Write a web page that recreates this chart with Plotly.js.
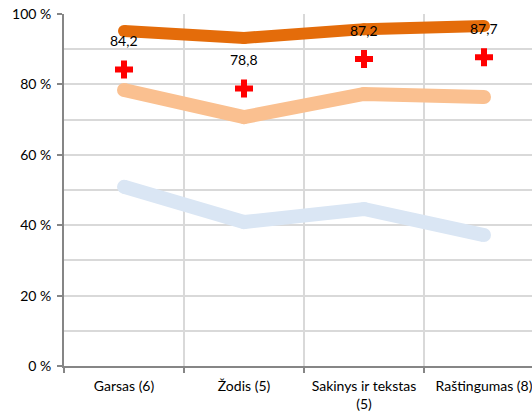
<!DOCTYPE html>
<html>
<head>
<meta charset="utf-8">
<script src="https://cdn.plot.ly/plotly-3.0.1.min.js"></script>
<style>
html,body{margin:0;padding:0;overflow:hidden;background:#fff;}
#chart{width:560px;height:414px;}
</style>
</head>
<body>
<div id="chart"></div>
<script>
const categories = ["Garsas (6)", "Žodis (5)", "Sakinys ir tekstas<br>(5)", "Raštingumas (8)"];
const seriesHigh = [95.2, 93.2, 95.7, 96.6];
const seriesMid = [78.4, 70.7, 77.3, 76.4];
const seriesLow = [50.9, 40.9, 44.6, 37.2];
const averages = [84.2, 78.8, 87.2, 87.7];
const yTickVals = [0, 20, 40, 60, 80, 100];
const yTickText = ["0 %", "20 %", "40 %", "60 %", "80 %", "100 %"];

const font = "Lato, Open Sans, sans-serif";

function lineTrace(y, color, w) {
  return {x: categories, y: y, type: "scatter", mode: "lines+markers",
    line: {color: color, width: w},
    marker: {color: color, size: w, symbol: "circle", line: {width: 0}},
    hoverinfo: "none"};
}

const traces = [
  lineTrace(seriesLow, "#DAE6F4", 14),
  lineTrace(seriesMid, "#FAC090", 14),
  lineTrace(seriesHigh, "#E46C0A", 12),
  {x: categories, y: averages, type: "scatter", mode: "markers",
   marker: {symbol: "cross", color: "#FF0000", size: 15, line: {width: 0}}, hoverinfo: "none"}
];

const annotations = categories.map((c, i) => ({
  x: c, y: averages[i], xref: "x", yref: "y",
  text: averages[i].toFixed(1).replace(".", ","),
  showarrow: false, yshift: 29,
  font: {family: font, size: 14, color: "#000"}
}));

const layout = {
  width: 560, height: 414,
  margin: {l: 64, r: 16, t: 14, b: 48},
  paper_bgcolor: "#fff", plot_bgcolor: "#fff",
  showlegend: false,
  font: {family: font, size: 13, color: "#000"},
  xaxis: {
    type: "category", range: [-0.5, 3.5],
    tickson: "boundaries", showgrid: true, gridcolor: "#D9D9D9", gridwidth: 2,
    ticks: "outside", ticklen: 5, tickcolor: "#868686", tickwidth: 2,
    showline: true, linecolor: "#868686", linewidth: 2,
    tickfont: {family: font, size: 14, color: "#000"},
    ticklabelstandoff: 6,
    zeroline: false, fixedrange: true
  },
  yaxis: {
    range: [0, 100], tickvals: yTickVals, ticktext: yTickText,
    showgrid: true, gridcolor: "#D9D9D9", gridwidth: 2,
    minor: {dtick: 10, showgrid: true, gridcolor: "#D9D9D9", gridwidth: 2, ticks: ""},
    ticks: "outside", ticklen: 5, tickcolor: "#868686", tickwidth: 2,
    showline: true, linecolor: "#868686", linewidth: 2,
    tickfont: {family: font, size: 14, color: "#000"},
    ticklabelstandoff: 3,
    zeroline: false, fixedrange: true
  },
  annotations: annotations
};

Plotly.newPlot("chart", traces, layout, {displayModeBar: false, staticPlot: true});
</script>
</body>
</html>
